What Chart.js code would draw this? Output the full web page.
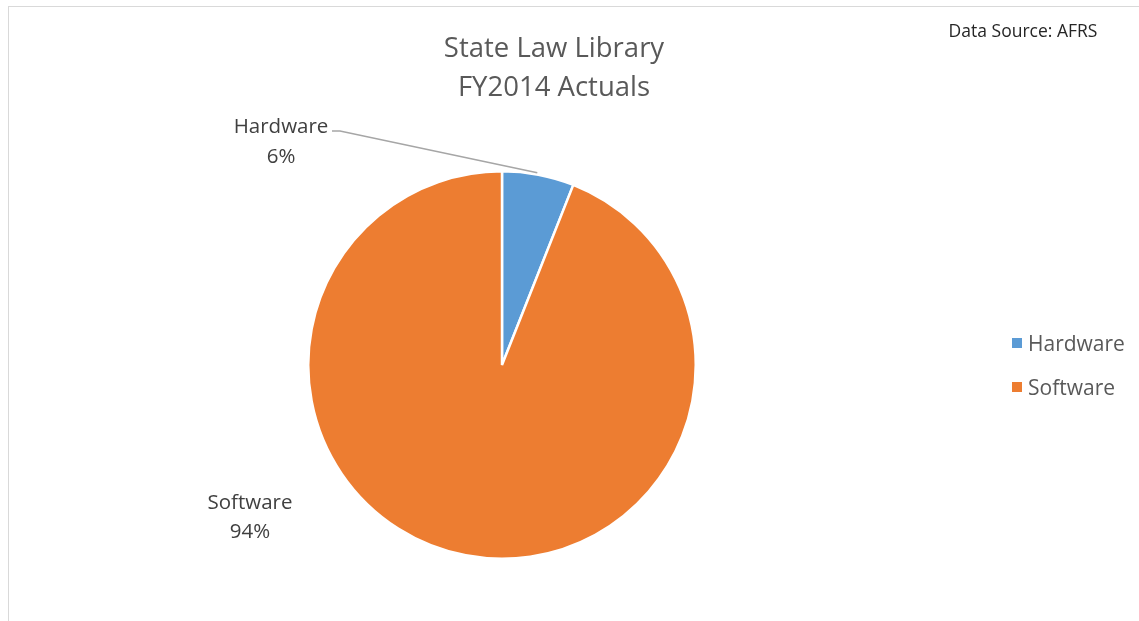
<!DOCTYPE html>
<html>
<head>
<meta charset="utf-8">
<title>State Law Library FY2014 Actuals</title>
<script src="https://cdn.jsdelivr.net/npm/chart.js@4/dist/chart.umd.min.js"></script>
<style>
  html, body { margin: 0; padding: 0; background: #fff; }
  #wrap { position: relative; width: 1139px; height: 621px; overflow: hidden; }
  #frame { position: absolute; left: 8px; top: 6px; width: 1200px; height: 700px; border: 1px solid #d9d9d9; box-sizing: border-box; }
  canvas { position: absolute; left: 0; top: 0; }
</style>
</head>
<body>
<div id="wrap">
  <div id="frame"></div>
  <canvas id="pie" width="1139" height="621"></canvas>
</div>
<script>
  const categories = ["Hardware", "Software"];
  const shares = [6, 94];
  const sliceColors = ["#5b9bd5", "#ed7d31"];
  const titleLines = ["State Law Library", "FY2014 Actuals"];
  const sourceNote = "Data Source: AFRS";

  const FONT = "'Open Sans', Lato, sans-serif";

  // titles, slice labels with the leader line, and the side legend
  const decorations = {
    id: "decorations",
    afterDraw(chart) {
      const ctx = chart.ctx;
      const arcs = chart.getDatasetMeta(0).data;
      ctx.save();

      ctx.fillStyle = "#595959";
      ctx.textAlign = "center";
      ctx.textBaseline = "middle";
      ctx.font = "27.5px " + FONT;
      ctx.fillText(titleLines[0], 554, 49);
      ctx.fillText(titleLines[1], 554, 88);

      ctx.fillStyle = "#262626";
      ctx.font = "17.5px " + FONT;
      ctx.fillText(sourceNote, 1023, 32);

      // hardware label sits up-left, connected to the slice edge
      const hw = arcs[0];
      const p = hw.getProps(["x", "y", "startAngle", "endAngle", "outerRadius"], true);
      const mid = (p.startAngle + p.endAngle) / 2;
      const ex = p.x + Math.cos(mid) * p.outerRadius;
      const ey = p.y + Math.sin(mid) * p.outerRadius;
      ctx.strokeStyle = "#a6a6a6";
      ctx.lineWidth = 1.5;
      ctx.beginPath();
      ctx.moveTo(332, 131);
      ctx.lineTo(340, 131);
      ctx.lineTo(ex - 1, ey - 2);
      ctx.stroke();

      ctx.fillStyle = "#404040";
      ctx.font = "20.5px " + FONT;
      ctx.fillText(categories[0], 281, 127);
      ctx.fillText(shares[0] + "%", 281, 157);
      ctx.fillText(categories[1], 250, 503);
      ctx.fillText(shares[1] + "%", 250, 532);

      // legend
      ctx.textAlign = "left";
      ctx.font = "21px " + FONT;
      categories.forEach((name, i) => {
        const y = 343 + i * 44;
        ctx.fillStyle = sliceColors[i];
        ctx.fillRect(1012, y - 5, 10, 10);
        ctx.fillStyle = "#595959";
        ctx.fillText(name, 1028, y + 2);
      });

      ctx.restore();
    }
  };

  new Chart(document.getElementById("pie"), {
    type: "pie",
    data: {
      labels: categories,
      datasets: [{
        data: shares,
        backgroundColor: sliceColors,
        borderColor: "#ffffff",
        borderWidth: 2.5
      }]
    },
    options: {
      responsive: false,
      animation: false,
      layout: { padding: { left: 307, right: 442, top: 170, bottom: 61 } },
      plugins: {
        legend: { display: false },
        tooltip: { enabled: false },
        title: { display: false }
      }
    },
    plugins: [decorations]
  });
</script>
</body>
</html>
